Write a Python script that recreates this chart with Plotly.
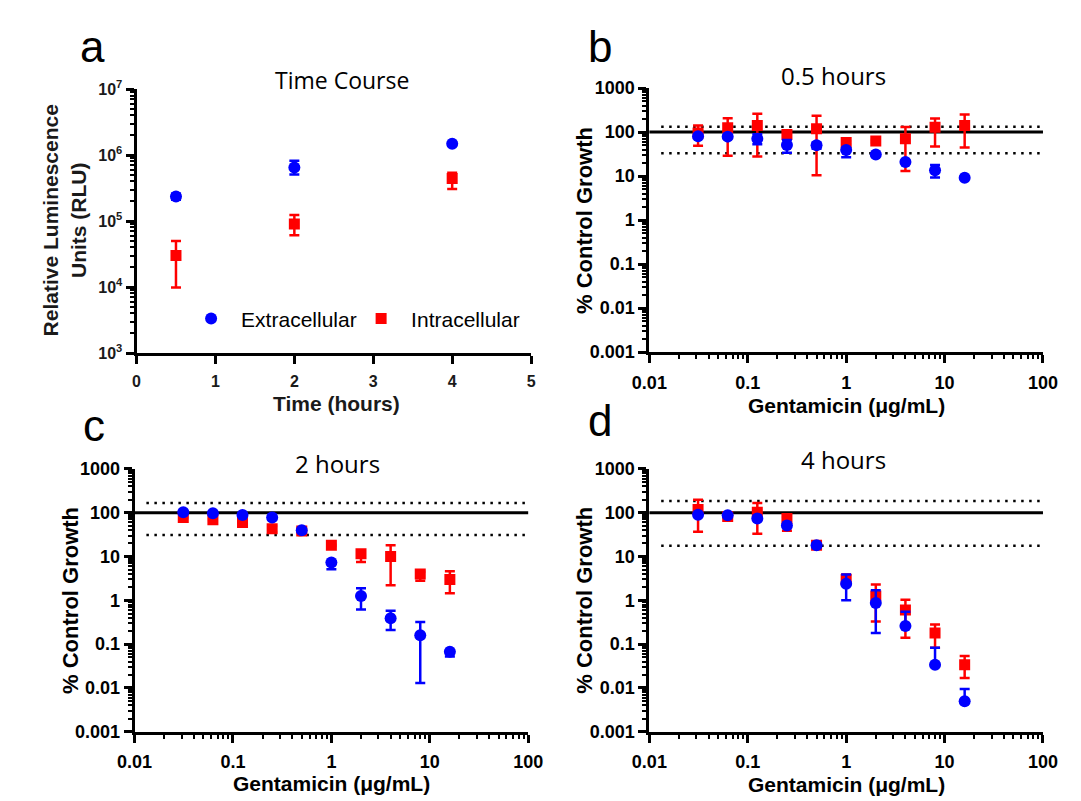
import plotly.graph_objects as go

# ---------------- data ----------------
time_h = [0.5, 2, 4]
tc_extra = [2.36e5, 6.5e5, 1.48e6]
tc_extra_hi = [2.6e5, 8.2e5, 1.55e6]
tc_extra_lo = [2.1e5, 5.1e5, 1.4e6]
tc_intra = [3.0e4, 9.0e4, 4.4e5]
tc_intra_hi = [5.0e4, 1.24e5, 5.4e5]
tc_intra_lo = [9.8e3, 6.1e4, 3.05e5]

conc = [0.03125, 0.0625, 0.125, 0.25, 0.5, 1, 2, 4, 8, 16]

# 0.5 hours
b_extra = [81, 79, 71, 51, 50, 39, 31, 21, 13.6, 9.2]
b_extra_hi = [88, 86, 90, 66, 58, 44, 33, 22, 18, 9.6]
b_extra_lo = [76, 73, 53, 34, 42, 27, 29, 19.5, 9.3, 8.8]
b_intra = [95, 125, 141, 88, 120, 58, 63, 71, 129, 141]
b_intra_hi = [141, 208, 260, 100, 235, 62, 67, 131, 205, 251]
b_intra_lo = [49, 29, 28, 46, 10.5, 53, 58, 13, 47, 45]

# 2 hours
c_extra = [103, 97, 89, 78, 40, 7.3, 1.25, 0.39, 0.16, 0.067]
c_extra_hi = [105, 99, 91, 80, 42, 7.5, 1.9, 0.58, 0.32, 0.069]
c_extra_lo = [101, 95, 87, 70, 37, 5.1, 0.62, 0.21, 0.013, 0.052]
c_intra = [78, 69, 60, 43, 38, 18, 11.6, 10, 4, 3]
c_intra_hi = [80, 71, 62, 50, 45, 18.5, 14, 18, 4.5, 4.6]
c_intra_lo = [76, 67, 58, 36, 33, 17.5, 7.5, 2.2, 2.8, 1.45]

# 4 hours
d_extra = [90, 87, 74, 51, 18, 2.4, 0.87, 0.26, 0.034, 0.0050]
d_extra_hi = [92, 89, 76, 53, 18.5, 3.9, 1.7, 0.55, 0.083, 0.0095]
d_extra_lo = [88, 85, 72, 49, 17.5, 1.0, 0.18, 0.26, 0.034, 0.0050]
d_intra = [119, 82, 103, 74, 18, 3.0, 1.25, 0.60, 0.18, 0.034]
d_intra_hi = [198, 84, 167, 80, 18.5, 3.9, 2.3, 1.03, 0.28, 0.054]
d_intra_lo = [37, 80, 33, 39, 17.5, 2.6, 0.33, 0.14, 0.083, 0.017]

ref_solid = 100
b_dotted = [132, 33]
c_dotted = [167, 31]
d_dotted = [184, 17.6]

panel_letters = ["a", "b", "c", "d"]
panel_titles = ["Time Course", "0.5 hours", "2 hours", "4 hours"]
legend_names = ["Extracellular", "Intracellular"]
y_log_labels = ["0.001", "0.01", "0.1", "1", "10", "100", "1000"]
x_log_labels = ["0.01", "0.1", "1", "10", "100"]

# ---------------- layout helpers ----------------
W, H = 1081, 801
BLUE = "#0000FF"
RED = "#FF0000"
FONT = "Liberation Sans, Arial, sans-serif"
TFONT = "Open Sans, sans-serif"


def px_x(p):
    return p / W


def px_y(p):
    return 1 - p / H


fig = go.Figure()

panels = {
    # name: (xaxis, yaxis, x0px, x1px, ytop, ybottom)
    "a": ("x", "y", 114, 521, 72, 343),
    "b": ("x2", "y2", 643, 1049, 71, 342),
    "c": ("x3", "y3", 112, 518, 462, 732),
    "d": ("x4", "y4", 643, 1049, 462, 732),
}


def errs(v, hi, lo):
    return [h - a for a, h in zip(v, hi)], [a - l for a, l in zip(v, lo)]


def add_pair(xa, ya, xs, ext, ext_hi, ext_lo, intr, intr_hi, intr_lo, legend):
    p, m = errs(intr, intr_hi, intr_lo)
    fig.add_trace(go.Scatter(
        x=xs, y=intr, mode="markers", name=legend_names[1], xaxis=xa, yaxis=ya,
        marker=dict(symbol="square", size=11, color=RED),
        error_y=dict(type="data", symmetric=False, array=p, arrayminus=m,
                     color=RED, thickness=2.5, width=5),
        showlegend=legend, legendrank=2))
    p, m = errs(ext, ext_hi, ext_lo)
    fig.add_trace(go.Scatter(
        x=xs, y=ext, mode="markers", name=legend_names[0], xaxis=xa, yaxis=ya,
        marker=dict(symbol="circle", size=12, color=BLUE),
        error_y=dict(type="data", symmetric=False, array=p, arrayminus=m,
                     color=BLUE, thickness=2.5, width=5),
        showlegend=legend, legendrank=1))


add_pair("x", "y", time_h, tc_extra, tc_extra_hi, tc_extra_lo,
         tc_intra, tc_intra_hi, tc_intra_lo, True)
add_pair("x2", "y2", conc, b_extra, b_extra_hi, b_extra_lo,
         b_intra, b_intra_hi, b_intra_lo, False)
add_pair("x3", "y3", conc, c_extra, c_extra_hi, c_extra_lo,
         c_intra, c_intra_hi, c_intra_lo, False)
add_pair("x4", "y4", conc, d_extra, d_extra_hi, d_extra_lo,
         d_intra, d_intra_hi, d_intra_lo, False)

axis_common = dict(showline=True, linewidth=3, linecolor="black", ticks="outside",
                   ticklen=8, tickwidth=3, tickcolor="black", showgrid=False,
                   zeroline=False, mirror=False)
minor_log = [k * 10 ** n for n in range(-4, 8) for k in range(2, 10)]

layout_axes = {}
for key, (xa, ya, x0, x1, yt, yb) in panels.items():
    xname = "xaxis" + xa[1:]
    yname = "yaxis" + ya[1:]
    if key == "a":
        layout_axes[xname] = dict(
            domain=[px_x(x0), px_x(x1)], anchor=ya, range=[0, 5], dtick=1, tick0=0,
            tickfont=dict(family=FONT, size=16, color="#1a1a1a", weight="bold"),
            ticklabelstandoff=4, **axis_common)
        layout_axes[yname] = dict(
            domain=[px_y(yb), px_y(yt)], anchor=xa, type="log", range=[3, 7],
            tickmode="array", tickvals=[1e3, 1e4, 1e5, 1e6, 1e7],
            ticktext=["10<sup>%d</sup>" % n for n in range(3, 8)],
            tickfont=dict(family=FONT, size=16, color="#1a1a1a", weight="bold"),
            minor=dict(tickmode="array", tickvals=minor_log, ticks="outside",
                       ticklen=4, tickwidth=2, tickcolor="black"),
            **axis_common)
    else:
        layout_axes[xname] = dict(
            domain=[px_x(x0), px_x(x1)], anchor=ya, type="log", range=[-2, 2],
            tickmode="array", tickvals=[0.01, 0.1, 1, 10, 100], ticktext=x_log_labels,
            tickfont=dict(family=FONT, size=18, color="black", weight="bold"),
            ticklabelstandoff=4,
            minor=dict(tickmode="array", tickvals=minor_log, ticks="outside",
                       ticklen=4, tickwidth=2, tickcolor="black"),
            **axis_common)
        layout_axes[yname] = dict(
            domain=[px_y(yb), px_y(yt)], anchor=xa, type="log", range=[-3, 3],
            tickmode="array", tickvals=[0.001, 0.01, 0.1, 1, 10, 100, 1000],
            ticktext=y_log_labels,
            tickfont=dict(family=FONT, size=18, color="black", weight="bold"),
            minor=dict(tickmode="array", tickvals=minor_log, ticks="outside",
                       ticklen=4, tickwidth=2, tickcolor="black"),
            **axis_common)

shapes = []
for (xa, ya), dots in zip([("x2", "y2"), ("x3", "y3"), ("x4", "y4")],
                          [b_dotted, c_dotted, d_dotted]):
    shapes.append(dict(type="line", xref=xa + " domain", yref=ya, x0=0, x1=1,
                       y0=ref_solid, y1=ref_solid, line=dict(color="black", width=3),
                       layer="below"))
    for v in dots:
        shapes.append(dict(type="line", xref=xa + " domain", yref=ya, x0=0.03, x1=1,
                           y0=v, y1=v, line=dict(color="black", width=2.5,
                                                 dash="2.5px,5.5px"),
                           layer="below"))

annotations = []


def ann(text, x, y, size, family=FONT, weight="normal", angle=0, color="black"):
    annotations.append(dict(text=text, xref="paper", yref="paper", x=px_x(x), y=px_y(y),
                            xanchor="center", yanchor="middle", showarrow=False,
                            textangle=angle,
                            font=dict(family=family, size=size, color=color,
                                      weight=weight)))


# panel letters
for letter, (x, y) in zip(panel_letters, [(69, 28), (592, 28), (70, 417), (592, 412)]):
    ann(letter, x, y, 44)
# titles
for t, (x, y) in zip(panel_titles, [(326, 63), (833, 58), (321, 456), (843, 452)]):
    ann(t, x, y, 24 if t != "Time Course" else 23, family=TFONT)
# axis titles
ann("Relative Luminescence<br>Units (RLU)", 39, 207, 21, weight="bold", angle=-90,
    color="#1a1a1a")
ann("Time (hours)", 320, 395, 21, weight="bold", color="#1a1a1a")
ann("% Control Growth", 576, 207, 22, weight="bold", angle=-90)
ann("% Control Growth", 46, 597, 22, weight="bold", angle=-90)
ann("% Control Growth", 576, 597, 22, weight="bold", angle=-90)
ann("Gentamicin (μg/mL)", 846, 397, 21, weight="bold")
ann("Gentamicin (μg/mL)", 315, 785, 21, weight="bold")
ann("Gentamicin (μg/mL)", 846, 786, 21, weight="bold")

fig.update_layout(
    width=W, height=H, margin=dict(l=0, r=0, t=0, b=0),
    paper_bgcolor="white", plot_bgcolor="white",
    showlegend=True,
    legend=dict(orientation="h", x=px_x(160), y=px_y(308), xanchor="left",
                yanchor="middle", bgcolor="rgba(0,0,0,0)",
                font=dict(family=FONT, size=21, color="black"),
                itemwidth=50, entrywidth=105, entrywidthmode="pixels",
                itemclick=False),
    shapes=shapes, annotations=annotations,
    **layout_axes,
)

fig.write_html("out.html")
